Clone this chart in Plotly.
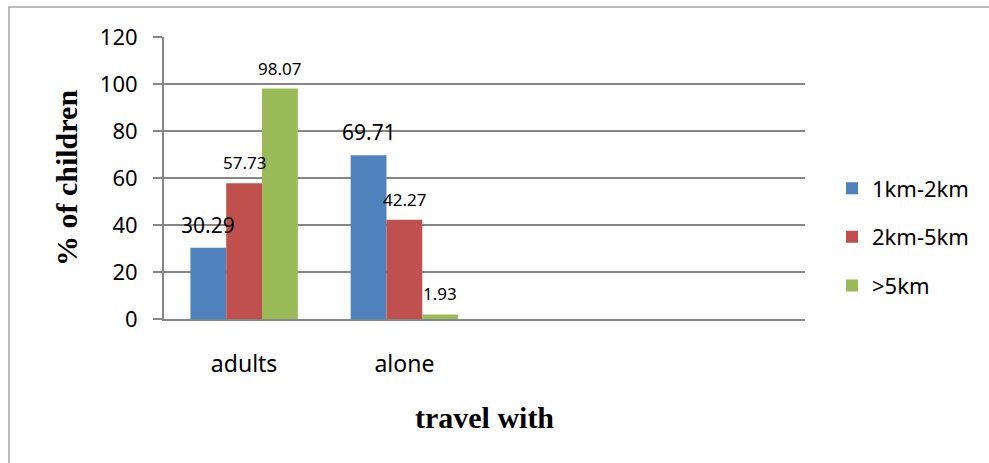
import plotly.graph_objects as go

categories = ["adults", "alone", " ", "  "]
series_names = ["1km-2km", "2km-5km", ">5km"]
v_1_2 = [30.29, 69.71, None, None]
v_2_5 = [57.73, 42.27, None, None]
v_5 = [98.07, 1.93, None, None]
label_sizes = [[21, 21, 17, 17], [17, 17, 17, 17], [17, 17, 17, 17]]
colors = ["#4F81BD", "#C0504D", "#9BBB59"]
y_ticks = [0, 20, 40, 60, 80, 100, 120]

W, H = 989, 463
ML, MR, MT, MB = 164, 184, 37, 144
PW, PH = W - ML - MR, H - MT - MB
BARGAP = 0.33
n_cat = len(categories)
bar_px = PW / n_cat * (1 - BARGAP) / len(series_names)

fig = go.Figure()
annotations = []
all_vals = [v_1_2, v_2_5, v_5]
for i, (name, vals) in enumerate(zip(series_names, all_vals)):
    fig.add_trace(go.Bar(
        x=categories, y=vals, name=name, marker_color=colors[i],
        marker_line_width=0, legendgroup=name,
    ))
    for j, v in enumerate(vals):
        if v is None:
            continue
        annotations.append(dict(
            x=categories[j], y=v, xref="x", yref="y", text=f"{v:.2f}",
            showarrow=False, yanchor="bottom", xanchor="center",
            xshift=(i - (len(series_names) - 1) / 2) * bar_px, yshift=7,
            font=dict(family="Noto Sans, Open Sans, sans-serif", size=label_sizes[i][j], color="#000000"),
        ))

fig.update_layout(
    width=W, height=H,
    margin=dict(l=ML, r=MR, t=MT, b=MB, autoexpand=False),
    paper_bgcolor="white", plot_bgcolor="white",
    barmode="group", bargap=BARGAP, bargroupgap=0,
    font=dict(family="Noto Sans, Open Sans, sans-serif", color="#000000"),
    legend=dict(x=1 + 27 / PW, y=0.291, xanchor="left", yanchor="middle",
                font=dict(size=22), tracegroupgap=17, itemwidth=30,
                bgcolor="rgba(0,0,0,0)"),
    annotations=annotations,
    xaxis=dict(
        automargin=False,
        showline=True, linecolor="#868686", linewidth=2,
        ticks="", tickfont=dict(size=23), ticklabelstandoff=23,
        title=dict(text="<b>travel with</b>", font=dict(family="Liberation Serif, Times New Roman, serif", size=30), standoff=29),
        showgrid=False,
    ),
    yaxis=dict(
        automargin=False,
        range=[0, 120], tickvals=y_ticks, showgrid=True, gridcolor="#868686", gridwidth=1.5,
        showline=True, linecolor="#868686", linewidth=2,
        ticks="outside", ticklen=9, tickcolor="#868686", tickwidth=1.5,
        tickfont=dict(size=22), ticklabelstandoff=11,
        zeroline=False,
        title=dict(text="<b>% of children</b>", font=dict(family="Liberation Serif, Times New Roman, serif", size=30), standoff=13),
    ),
    shapes=[dict(type="rect", xref="paper", yref="paper",
                 x0=(9 - ML) / PW, x1=1.5, y0=-0.8, y1=(PH + MT - 7) / PH,
                 line=dict(color="#A6A6A6", width=1.5), fillcolor="rgba(0,0,0,0)", layer="below")],
)

fig.write_html("out.html", config={"displayModeBar": False},
               post_script="document.body.style.margin='0';")
